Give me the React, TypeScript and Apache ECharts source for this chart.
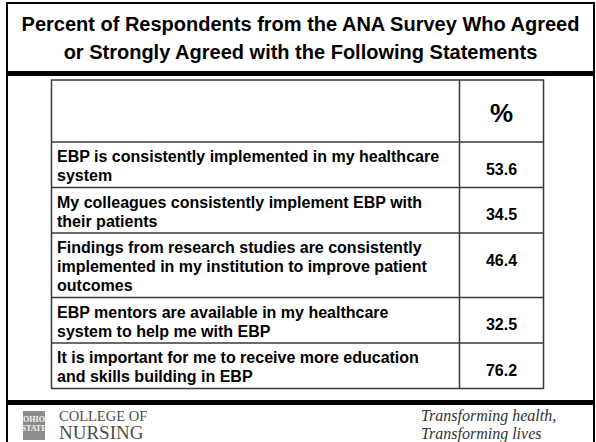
import React, { useEffect, useRef } from "react";
import * as echarts from "echarts";

const titleLines = [
  "Percent of Respondents from the ANA Survey Who Agreed",
  "or Strongly Agreed with the Following Statements",
];
const headerLabel = "%";
const statements = [
  "EBP is consistently implemented in my healthcare\nsystem",
  "My colleagues consistently implement EBP with\ntheir patients",
  "Findings from research studies are consistently\nimplemented in my institution to improve patient\noutcomes",
  "EBP mentors are available in my healthcare\nsystem to help me with EBP",
  "It is important for me to receive more education\nand skills building in EBP",
];
const percentages = [53.6, 34.5, 46.4, 32.5, 76.2];
const logoLines = ["OHIO", "STATE"];
const footerLeft = ["COLLEGE OF", "NURSING"];
const footerRight = ["Transforming health,", "Transforming lives"];

const SANS = "'Liberation Sans', Arial, Helvetica, sans-serif";
const SERIF = "'Liberation Serif', 'Times New Roman', serif";

export default function App() {
  const ref = useRef<HTMLDivElement>(null);

  useEffect(() => {
    document.body.style.margin = "0";
    if (!ref.current) return;
    const chart = echarts.init(ref.current, undefined, { renderer: "svg" });

    const W = 596;
    const frameL = 7;
    const frameR = 594;
    const tableL = 51.5;
    const tableR = 543.5;
    const divX = 459.5;
    const tableTop = 80;
    const headerH = 62;
    const lineH = 19;
    const lineColor = "#3a3a3a";

    const els: any[] = [];

    els.push({ type: "rect", shape: { x: 0, y: 0, width: W, height: 442 }, style: { fill: "#ffffff" }, silent: true });

    // outer frame
    els.push({
      type: "rect",
      shape: { x: frameL, y: 3, width: frameR - frameL, height: 460 },
      style: { fill: "none", stroke: "#000", lineWidth: 2 },
    });
    // thick separators
    els.push({ type: "rect", shape: { x: frameL, y: 71, width: frameR - frameL, height: 5 }, style: { fill: "#000" } });
    els.push({ type: "rect", shape: { x: frameL, y: 400, width: frameR - frameL, height: 5 }, style: { fill: "#000" } });

    // title
    els.push({
      type: "text",
      style: {
        text: titleLines.join("\n"),
        x: (frameL + frameR) / 2,
        y: 10,
        align: "center",
        verticalAlign: "top",
        font: `bold 20px ${SANS}`,
        lineHeight: 28,
        fill: "#000",
      },
    });

    // table rows geometry
    const rowTops: number[] = [];
    let y = tableTop + headerH;
    const rowHeights = statements.map((s) => 7.5 + s.split("\n").length * lineH);
    rowHeights.forEach((h) => {
      rowTops.push(y);
      y += h;
    });
    const tableBottom = y;

    els.push({
      type: "rect",
      shape: { x: tableL, y: tableTop, width: tableR - tableL, height: tableBottom - tableTop },
      style: { fill: "#fff", stroke: lineColor, lineWidth: 1.5 },
    });
    els.push({
      type: "line",
      shape: { x1: divX, y1: tableTop, x2: divX, y2: tableBottom },
      style: { stroke: lineColor, lineWidth: 1.5 },
    });
    rowTops.forEach((t) => {
      els.push({
        type: "line",
        shape: { x1: tableL, y1: t, x2: tableR, y2: t },
        style: { stroke: lineColor, lineWidth: 1.5 },
      });
    });

    els.push({
      type: "text",
      style: {
        text: headerLabel,
        x: (divX + tableR) / 2,
        y: tableTop + 33,
        align: "center",
        verticalAlign: "middle",
        font: `bold 26px ${SANS}`,
        fill: "#000",
      },
    });

    statements.forEach((s, i) => {
      els.push({
        type: "text",
        style: {
          text: s,
          x: 57,
          y: rowTops[i] + 5,
          align: "left",
          verticalAlign: "top",
          font: `bold 16px ${SANS}`,
          lineHeight: lineH,
          fill: "#000",
        },
      });
      els.push({
        type: "text",
        style: {
          text: percentages[i].toFixed(1),
          x: (divX + tableR) / 2,
          y: rowTops[i] + 27,
          align: "center",
          verticalAlign: "middle",
          font: `bold 16px ${SANS}`,
          fill: "#000",
        },
      });
    });

    // footer logo block
    els.push({ type: "rect", shape: { x: 23, y: 411, width: 22, height: 29 }, style: { fill: "#8c8c8c" } });
    els.push({
      type: "text",
      style: {
        text: logoLines.join("\n"),
        x: 34,
        y: 415,
        align: "center",
        verticalAlign: "top",
        font: `bold 8px ${SERIF}`,
        lineHeight: 9,
        fill: "#f4f4f4",
      },
    });
    els.push({
      type: "text",
      style: {
        text: `{a|${footerLeft[0]}}\n{b|${footerLeft[1]}}`,
        x: 59,
        y: 408,
        align: "left",
        verticalAlign: "top",
        rich: {
          a: { font: `14.5px ${SERIF}`, fill: "#4d4d4d", lineHeight: 15 },
          b: { font: `19px ${SERIF}`, fill: "#4d4d4d", lineHeight: 19 },
        },
      },
    });
    els.push({
      type: "text",
      style: {
        text: footerRight.join("\n"),
        x: 421,
        y: 406,
        align: "left",
        verticalAlign: "top",
        font: `italic 16px ${SERIF}`,
        lineHeight: 18,
        fill: "#333",
      },
    });

    chart.setOption({ animation: false, graphic: { elements: els } });
    return () => chart.dispose();
  }, []);

  return <div ref={ref} style={{ width: 596, height: 442 }} />;
}
